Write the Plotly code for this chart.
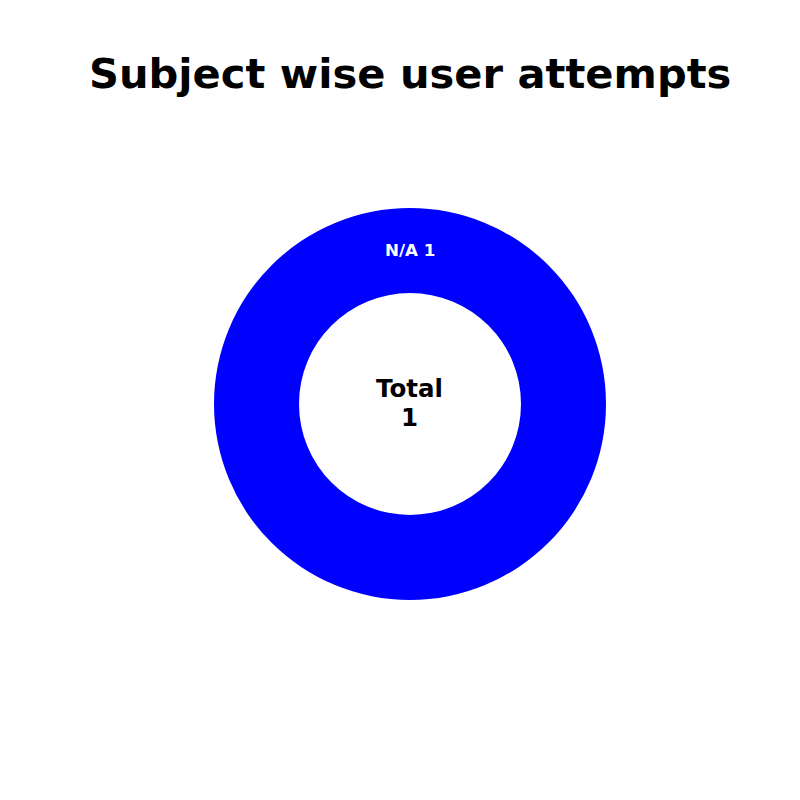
import plotly.graph_objects as go

labels = ["N/A"]
values = [1]
colors = ["#0000ff"]
title_text = "Subject wise user attempts"

W = H = 800
off = 8  # page body margin
cx, cy, r_out, r_in = 410 - off, 404 - off, 196, 111

fig = go.Figure(go.Pie(
    labels=labels, values=values, hole=r_in / r_out, sort=False,
    marker=dict(colors=colors, line=dict(width=0)),
    textinfo="none", hoverinfo="label+value", showlegend=False,
    domain=dict(x=[(cx - r_out) / W, (cx + r_out) / W],
                y=[(H - cy - r_out) / H, (H - cy + r_out) / H]),
))

font = "DejaVu Sans"
mid = (r_in + r_out) / 2
fig.add_annotation(text=f"<b>{labels[0]} {values[0]}</b>", x=cx / W, y=(H - cy + mid) / H,
                   xref="paper", yref="paper", showarrow=False, xanchor="center", yanchor="middle",
                   font=dict(family=font, size=16.7, color="white"))
for txt, dy in [("Total", 15), (str(sum(values)), -13)]:
    fig.add_annotation(text=f"<b>{txt}</b>", x=cx / W, y=(H - cy + dy) / H,
                       xref="paper", yref="paper", showarrow=False, xanchor="center", yanchor="middle",
                       font=dict(family=font, size=24.5, color="black"))
fig.add_annotation(text=f"<b>{title_text}</b>", x=(410 - off) / W, y=(H - 73 + off) / H,
                   xref="paper", yref="paper", showarrow=False, xanchor="center", yanchor="middle",
                   font=dict(family=font, size=41.6, color="black"))

fig.update_layout(width=W, height=H, margin=dict(l=0, r=0, t=0, b=0),
                  paper_bgcolor="white", plot_bgcolor="white")
fig.write_html("out.html")
